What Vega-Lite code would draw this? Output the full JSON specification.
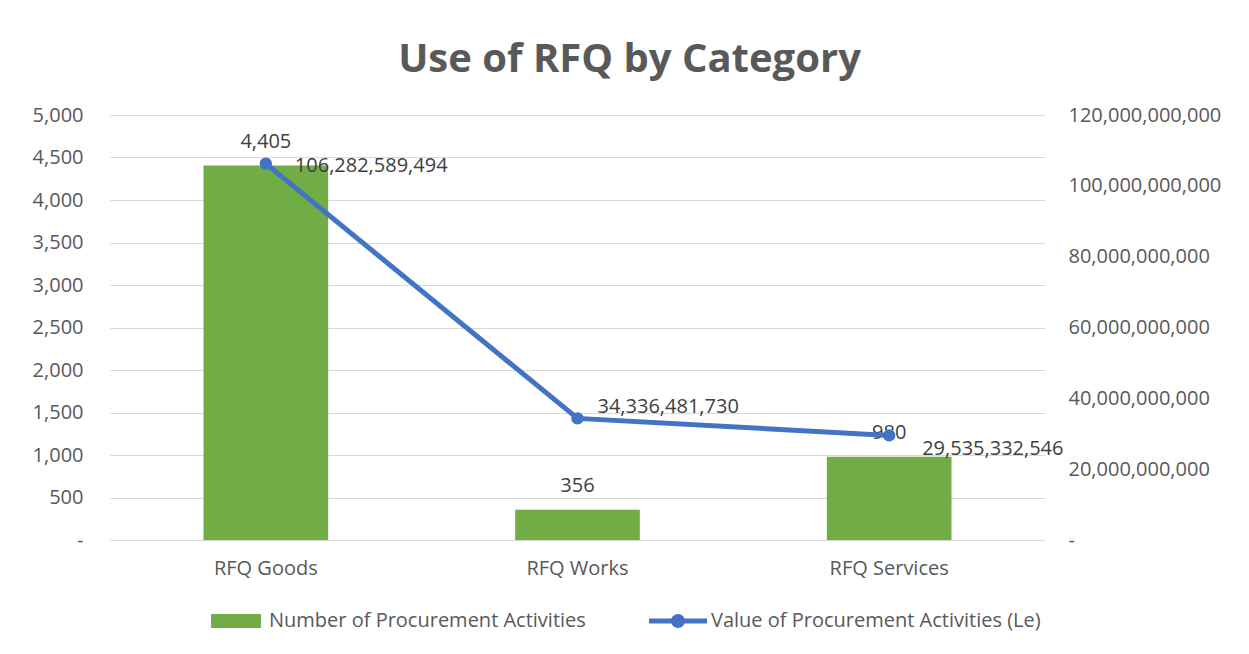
{
  "$schema": "https://vega.github.io/schema/vega-lite/v6.json",
  "autosize": {"type": "none"},
  "width": 935,
  "height": 425,
  "padding": {"left": 110, "top": 115, "right": 204, "bottom": 114},
  "background": "white",
  "config": {
    "font": "Open Sans",
    "view": {"stroke": null},
    "axis": {"labelFont": "Open Sans", "labelFontSize": 20, "labelColor": "#595959", "ticks": false, "domain": false, "title": null}
  },
  "title": {"text": "Use of RFQ by Category", "fontSize": 40, "fontWeight": "bold", "color": "#595959", "font": "Open Sans", "anchor": "middle", "dx": 52, "dy": 37, "offset": 30, "baseline": "alphabetic"},
  "data": {"values": [
    {"category": "RFQ Goods", "count": 4405, "value": 106282589494},
    {"category": "RFQ Works", "count": 356, "value": 34336481730},
    {"category": "RFQ Services", "count": 980, "value": 29535332546}
  ]},
  "encoding": {
    "x": {"field": "category", "type": "nominal", "sort": null,
      "scale": {"paddingInner": 0.6, "paddingOuter": 0.3},
      "axis": {"labelAngle": 0, "labelPadding": 18, "grid": false, "domain": false}}
  },
  "layer": [
    {"layer": [
      {"mark": {"type": "bar"},
       "encoding": {
         "y": {"field": "count", "type": "quantitative", "scale": {"domain": [0, 5000], "nice": false},
           "axis": {"orient": "left", "values": [0, 500, 1000, 1500, 2000, 2500, 3000, 3500, 4000, 4500, 5000], "grid": true, "gridColor": "#D9D9D9", "gridWidth": 1, "labelPadding": 27,
             "labelExpr": "datum.value === 0 ? '-\u00a0\u00a0\u00a0\u00a0\u00a0\u00a0\u00a0\u00a0\u00a0' : format(datum.value, ',')"}},
         "color": {"datum": "Number of Procurement Activities",
           "scale": {"domain": ["Number of Procurement Activities", "Value of Procurement Activities (Le)"], "range": ["#70AD47", "#4472C4"]},
           "legend": {"title": null, "orient": "none", "direction": "horizontal", "columns": 2, "legendX": 97, "legendY": 477,
             "symbolSize": 3364, "labelFontSize": 20, "labelFont": "Open Sans", "labelColor": "#595959", "labelOffset": 4, "labelLimit": 500, "columnPadding": 63, "padding": 0,
             "encode": {"symbols": {"update": {
               "shape": {"signal": "datum.value === 'Number of Procurement Activities' ? 'M-0.86,-0.24H0.86V0.24H-0.86Z' : 'M-1,-0.086H1V0.086H-1Z M-0.24,0A0.24,0.24 0 1,1 0.24,0A0.24,0.24 0 1,1 -0.24,0Z'"},
               "fill": {"signal": "datum.value === 'Number of Procurement Activities' ? '#70AD47' : '#4472C4'"},
               "strokeWidth": {"value": 0},
               "opacity": {"value": 1},
               "fillOpacity": {"value": 1}
             }}}}}
       }},
      {"mark": {"type": "text", "dy": -24, "baseline": "middle", "align": "center", "fontSize": 20, "font": "Open Sans", "color": "#404040"},
       "encoding": {
         "y": {"field": "count", "type": "quantitative"},
         "text": {"field": "count", "type": "quantitative", "format": ","}
       }}
    ]},
    {"layer": [
      {"mark": {"type": "line", "strokeWidth": 5, "point": {"filled": true, "size": 154, "color": "#4472C4"}},
       "encoding": {
         "y": {"field": "value", "type": "quantitative", "scale": {"domain": [0, 120000000000], "nice": false},
           "axis": {"orient": "right", "values": [0, 20000000000, 40000000000, 60000000000, 80000000000, 100000000000, 120000000000], "grid": false, "labelPadding": 23,
             "labelExpr": "datum.value === 0 ? '-' : format(datum.value, ',')"}},
         "color": {"datum": "Value of Procurement Activities (Le)"}
       }},
      {"transform": [{"filter": "datum.category === 'RFQ Goods'"}],
       "mark": {"type": "text", "dx": 29, "dy": 2, "align": "left", "baseline": "middle", "fontSize": 20, "font": "Open Sans", "color": "#404040"},
       "encoding": {"y": {"field": "value", "type": "quantitative"}, "text": {"field": "value", "type": "quantitative", "format": ","}}},
      {"transform": [{"filter": "datum.category === 'RFQ Works'"}],
       "mark": {"type": "text", "dx": 20, "dy": -11, "align": "left", "baseline": "middle", "fontSize": 20, "font": "Open Sans", "color": "#404040"},
       "encoding": {"y": {"field": "value", "type": "quantitative"}, "text": {"field": "value", "type": "quantitative", "format": ","}}},
      {"transform": [{"filter": "datum.category === 'RFQ Services'"}],
       "mark": {"type": "text", "dx": 33, "dy": 14, "align": "left", "baseline": "middle", "fontSize": 20, "font": "Open Sans", "color": "#404040"},
       "encoding": {"y": {"field": "value", "type": "quantitative"}, "text": {"field": "value", "type": "quantitative", "format": ","}}}
    ]}
  ],
  "resolve": {"scale": {"y": "independent"}}
}
